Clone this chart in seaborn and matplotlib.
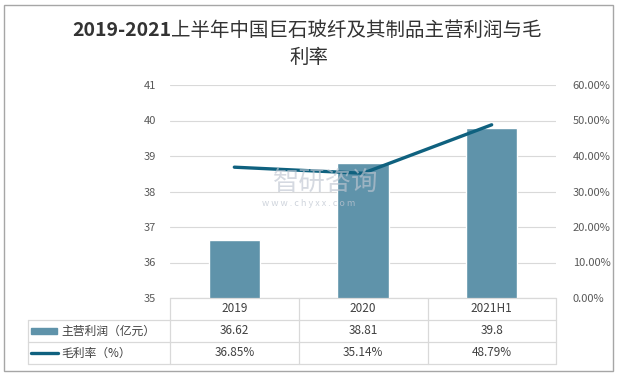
import matplotlib
matplotlib.use("Agg")
import matplotlib.pyplot as plt
import seaborn as sns
import pandas as pd
from matplotlib.lines import Line2D
from matplotlib.patches import Rectangle
from matplotlib.ticker import FuncFormatter

# ── data ──────────────────────────────────────────────────────────────────────
years = ["2019", "2020", "2021H1"]
profit = [36.62, 38.81, 39.8]          # 主营利润（亿元）
margin = [36.85, 35.14, 48.79]         # 毛利率（%）
profit_labels = ["36.62", "38.81", "39.8"]
margin_labels = ["36.85%", "35.14%", "48.79%"]

TITLE_NUM = "2019-2021"
TITLE_REST = "上半年中国巨石玻纤及其制品主营利润与毛"
TITLE_L2 = "利率"
BAR_C = "#5F93AA"
LINE_C = "#0F617F"
GRID_C = "#D9D9D9"
TXT_C = "#404040"

sns.set_theme(style="white")
plt.rcParams["font.family"] = ["Noto Sans CJK SC", "DejaVu Sans"]

W, H = 618, 377
fig = plt.figure(figsize=(W / 100, H / 100), dpi=100)


def fx(px):
    return px / W


def fy(py):
    return 1 - py / H


# plot area in pixels
L, R, T, B = 170, 556, 85, 298
ax = fig.add_axes([fx(L), fy(B), fx(R) - fx(L), fy(T) - fy(B)])

df = pd.DataFrame({"year": years, "profit": profit, "margin": margin})
sns.barplot(data=df, x="year", y="profit", color=BAR_C, width=0.4,
            saturation=1, ax=ax, zorder=2)
ax.set_ylim(35, 41)
ax.set_xlim(-0.5, 2.5)
ax.set_yticks(range(35, 42))
ax.yaxis.grid(True, color=GRID_C, linewidth=0.8)
ax.set_axisbelow(True)
ax.set_xlabel(""); ax.set_ylabel("")
ax.set_xticks([])
ax.tick_params(axis="y", length=0, labelsize=8, labelcolor="#595959", pad=10)
for s in ax.spines.values():
    s.set_visible(False)

ax2 = ax.twinx()
sns.lineplot(x=[0, 1, 2], y=margin, color=LINE_C, linewidth=2.4, ax=ax2,
             zorder=3)
ax2.set_ylim(0, 60)
ax2.set_xlim(-0.5, 2.5)
ax2.set_yticks(range(0, 61, 10))
ax2.yaxis.set_major_formatter(FuncFormatter(lambda v, _: f"{v:.2f}%"))
ax2.tick_params(axis="y", length=0, labelsize=8, labelcolor="#595959", pad=12)
ax2.set_ylabel("")
for s in ax2.spines.values():
    s.set_visible(False)

# ── watermark (drawn over the bars, faint) ──────────────────────────────────
fig.text(fx(326), fy(182), "智研咨询", fontsize=19, color="#BFC6D1",
         ha="center", va="center", alpha=0.65, zorder=5)
fig.text(fx(309), fy(203), "w w w . c h y x x . c o m", fontsize=6.5,
         color="#BFC6D1", ha="center", va="center", alpha=0.75, zorder=5)

# ── data table ───────────────────────────────────────────────────────────────
TL = 28
rows_y = [298, 320, 342, 364]
cols_x = [170, 299, 428, 556]


def hline(x0, x1, y):
    fig.add_artist(Line2D([fx(x0), fx(x1)], [fy(y), fy(y)], color=GRID_C,
                          linewidth=0.9))


def vline(x, y0, y1):
    fig.add_artist(Line2D([fx(x), fx(x)], [fy(y0), fy(y1)], color=GRID_C,
                          linewidth=0.9))


hline(cols_x[0], cols_x[-1], rows_y[0])
for y in rows_y[1:]:
    hline(TL, cols_x[-1], y)
for x in cols_x:
    vline(x, rows_y[0], rows_y[-1])
vline(TL, rows_y[1], rows_y[-1])

tr = ax.get_xaxis_transform()


def row_y(i):
    mid = (rows_y[i] + rows_y[i + 1]) / 2
    return (B - mid) / (B - T)


for i in range(len(years)):
    ax.text(i, row_y(0), years[i], transform=tr, ha="center", va="center",
            fontsize=8.5, color=TXT_C, clip_on=False)
    ax.text(i, row_y(1), profit_labels[i], transform=tr, ha="center",
            va="center", fontsize=8.5, color=TXT_C, clip_on=False)
    ax.text(i, row_y(2), margin_labels[i], transform=tr, ha="center",
            va="center", fontsize=8.5, color=TXT_C, clip_on=False)

# row labels with legend keys
y1 = (rows_y[1] + rows_y[2]) / 2
y2 = (rows_y[2] + rows_y[3]) / 2
fig.add_artist(Rectangle((fx(31), fy(y1 + 3)), fx(26), fy(y1 - 3) - fy(y1 + 3),
                         color=BAR_C))
fig.add_artist(Line2D([fx(31), fx(58)], [fy(y2), fy(y2)], color=LINE_C,
                      linewidth=2.4))
fig.text(fx(61), fy(y1), "主营利润（亿元）", fontsize=8.5, color=TXT_C,
         va="center", ha="left")
fig.text(fx(61), fy(y2), "毛利率（%）", fontsize=8.5, color=TXT_C,
         va="center", ha="left")

# ── title: bold digits, regular CJK, centred as one line ─────────────────────
renderer = fig.canvas.get_renderer()
t1 = fig.text(0, fy(30), TITLE_NUM, ha="left", va="center", fontsize=14,
              fontweight="bold", color="#333333")
t2 = fig.text(0, fy(30), TITLE_REST, ha="left", va="center", fontsize=14,
              color="#333333")
w1 = t1.get_window_extent(renderer).width
w2 = t2.get_window_extent(renderer).width
x0 = (W - w1 - w2) / 2 - 2
t1.set_x(fx(x0))
t2.set_x(fx(x0 + w1))
fig.text(fx(309), fy(57), TITLE_L2, ha="center", va="center", fontsize=14,
         color="#333333")

fig.add_artist(Rectangle((fx(4), fy(371)), fx(609), fy(5) - fy(371),
                         fill=False, edgecolor="#A6A6A6", linewidth=1))

fig.savefig("out.png", dpi=100)
